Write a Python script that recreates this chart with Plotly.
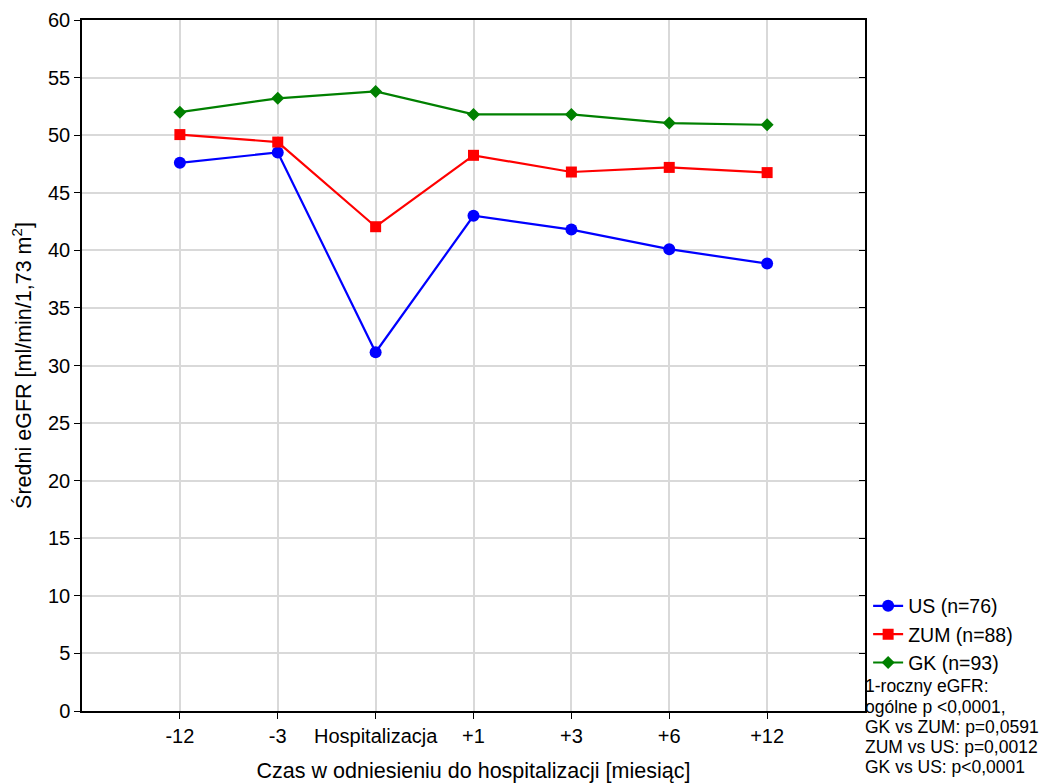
import plotly.graph_objects as go

# Punkty czasowe względem hospitalizacji
categories = ["-12", "-3", "Hospitalizacja", "+1", "+3", "+6", "+12"]

# Średni eGFR w grupach
us_values = [47.6, 48.5, 31.15, 43.0, 41.8, 40.1, 38.85]
zum_values = [50.05, 49.4, 42.05, 48.25, 46.8, 47.2, 46.75]
gk_values = [52.0, 53.2, 53.8, 51.8, 51.8, 51.05, 50.9]

# Wyniki testów dla eGFR po roku
stats_lines = [
    "1-roczny eGFR:",
    "ogólne p <0,0001,",
    "GK vs ZUM: p=0,0591",
    "ZUM vs US: p=0,0012",
    "GK vs US: p<0,0001",
]

series = [
    ("US (n=76)", us_values, "#0000ff", "circle", 12),
    ("ZUM (n=88)", zum_values, "#ff0000", "square", 11),
    ("GK (n=93)", gk_values, "#008000", "diamond", 10),
]

FONT = "Liberation Sans, Arial, sans-serif"
GRID = "#d9d9d9"

fig = go.Figure()
for name, vals, color, symbol, size in series:
    fig.add_trace(go.Scatter(
        x=categories, y=vals, name=name, mode="lines+markers",
        line=dict(color=color, width=2.2),
        marker=dict(color=color, symbol=symbol, size=size),
    ))

# Invisible trace to carry the right-hand axis with inner ticks
fig.add_trace(go.Scatter(x=[categories[0]], y=[0], yaxis="y2", showlegend=False,
                         mode="markers", marker=dict(opacity=0), hoverinfo="skip"))

fig.update_layout(
    width=1049, height=783,
    margin=dict(l=82, r=184, t=20, b=72, autoexpand=False),
    paper_bgcolor="white", plot_bgcolor="white",
    font=dict(family=FONT, color="black", size=20),
    xaxis=dict(
        type="category", range=[-1, 7], automargin=False,
        showgrid=True, gridcolor=GRID, gridwidth=1.5,
        showline=True, linecolor="black", linewidth=1.5, mirror=True,
        ticks="outside", ticklen=6, tickcolor="black",
        tickfont=dict(size=20),
        title=dict(text="Czas w odniesieniu do hospitalizacji [miesiąc]",
                   font=dict(size=21.5), standoff=17),
    ),
    yaxis=dict(
        range=[0, 60], dtick=5, automargin=False,
        showgrid=True, gridcolor=GRID, gridwidth=1.5, zeroline=False,
        showline=True, linecolor="black", linewidth=1.5, mirror=True,
        ticks="outside", ticklen=6, tickcolor="black",
        tickfont=dict(size=20),
        title=dict(text="Średni eGFR [ml/min/1,73 m<sup>2</sup>]",
                   font=dict(size=21.5), standoff=10),
    ),
    yaxis2=dict(
        range=[0, 60], dtick=5, overlaying="y", side="right", automargin=False,
        showgrid=False, zeroline=False, showticklabels=False,
        ticks="inside", ticklen=6, tickcolor="black", showline=False,
    ),
    legend=dict(
        x=1.004, xanchor="left", y=0.18, yanchor="top",
        font=dict(size=19.5), tracegroupgap=0, itemwidth=30,
        bgcolor="rgba(0,0,0,0)",
    ),
    showlegend=True,
)

# Each line of the statistics note sits at its own baseline
line_y_px = [686, 707, 727, 747, 767]
plot_top, plot_bottom = 20, 711
for text, ypx in zip(stats_lines, line_y_px):
    fig.add_annotation(
        xref="paper", yref="paper",
        x=0.998, y=(plot_bottom - ypx) / (plot_bottom - plot_top),
        xanchor="left", yanchor="middle", showarrow=False, align="left",
        text=text, font=dict(size=17.5, family=FONT),
    )

fig.write_html("out.html")
